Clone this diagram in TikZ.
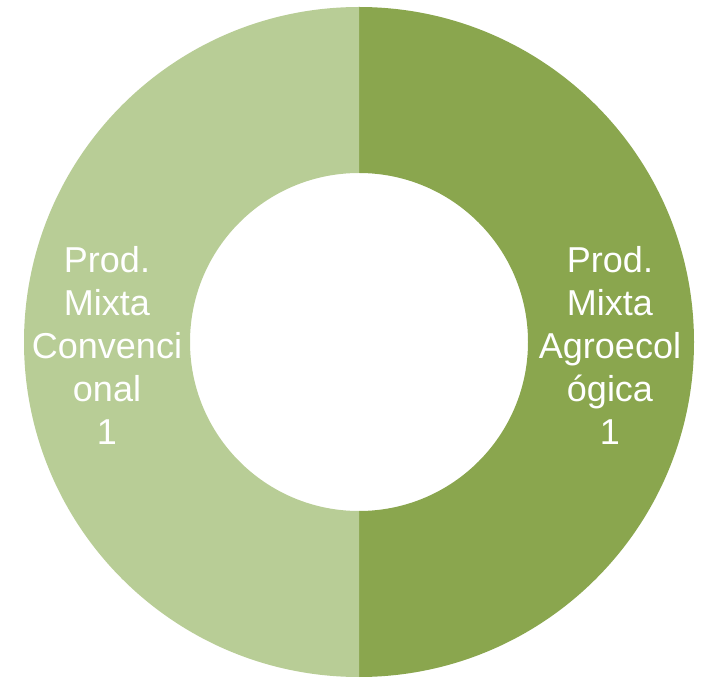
\documentclass[tikz,border=0pt]{standalone}
\usepackage{fontspec}
\setmainfont{Liberation Sans}
\definecolor{darkolive}{HTML}{8AA64E}
\definecolor{lightolive}{HTML}{B8CD96}
\tikzset{
  seglabel/.style={text=white, align=center, inner sep=0pt, font=\fontsize{36}{43}\selectfont}
}
\begin{document}
\begin{tikzpicture}[x=1pt,y=1pt]
\useasboundingbox (0,0) rectangle (710,678);
\coordinate (c) at (359,336);
% right segment
\fill[darkolive] (359,671) arc[start angle=90,end angle=-90,radius=335] -- (359,167) arc[start angle=-90,end angle=90,radius=169] -- cycle;
% left segment
\fill[lightolive] (359,671) arc[start angle=90,end angle=270,radius=335] -- (359,167) arc[start angle=270,end angle=90,radius=169] -- cycle;
\node[seglabel] (lconv) at (107,333) {Prod.\\Mixta\\Convenci\\onal\\1};
\node[seglabel] (ragro) at (610,333) {Prod.\\Mixta\\Agroecol\\ógica\\1};
\end{tikzpicture}
\end{document}
